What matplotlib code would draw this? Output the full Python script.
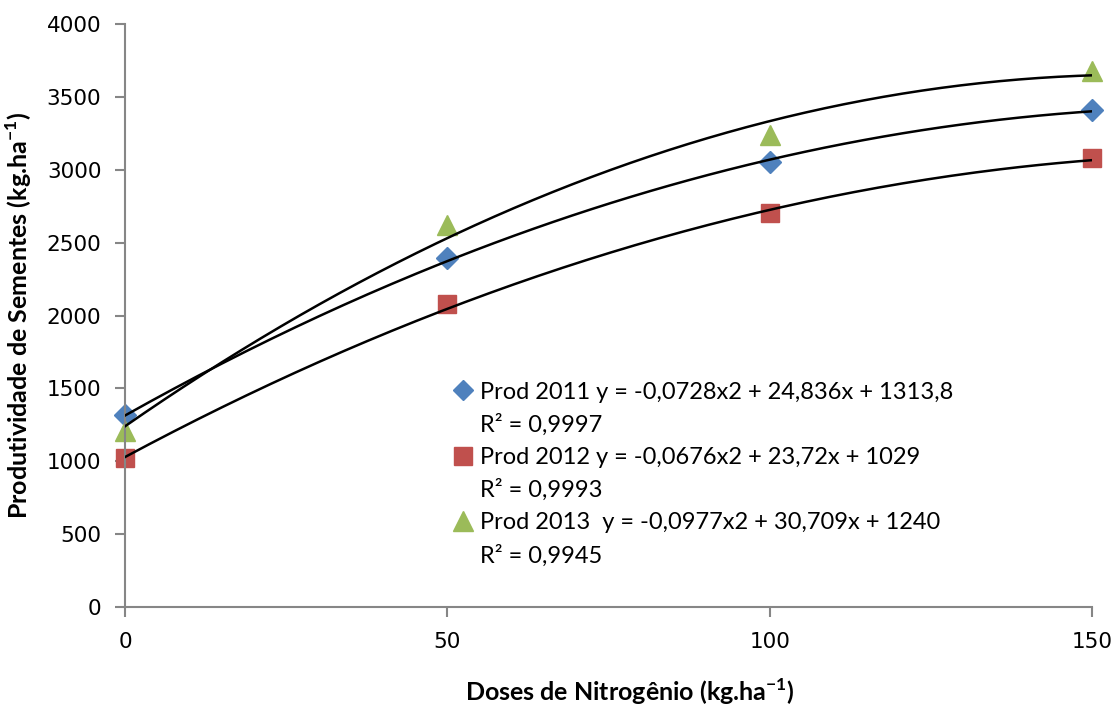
import numpy as np
import matplotlib
matplotlib.use('Agg')
import matplotlib.pyplot as plt
from matplotlib.lines import Line2D

# ── DATA ──────────────────────────────────────────────────────────────────────
doses = [0, 50, 100, 150]
prod_2011 = [1315, 2394, 3053, 3410]
prod_2012 = [1022, 2077, 2703, 3078]
prod_2013 = [1205, 2621, 3238, 3680]

# coeficientes das linhas de tendência (polinômio de 2º grau, do gráfico)
coef_2011 = [-0.0728, 24.836, 1313.8]
coef_2012 = [-0.0676, 23.72, 1029]
coef_2013 = [-0.0977, 30.709, 1240]

labels = ['Prod 2011 y = -0,0728x2 + 24,836x + 1313,8',
          'Prod 2012 y = -0,0676x2 + 23,72x + 1029',
          'Prod 2013  y = -0,0977x2 + 30,709x + 1240']
r2_labels = ['R² = 0,9997', 'R² = 0,9993', 'R² = 0,9945']

x_ticks = [0, 50, 100, 150]
y_ticks = [0, 500, 1000, 1500, 2000, 2500, 3000, 3500, 4000]

# ── ESTILO ────────────────────────────────────────────────────────────────────
plt.rcParams['mathtext.fontset'] = 'custom'
plt.rcParams['mathtext.rm'] = 'Lato'
plt.rcParams['mathtext.bf'] = 'Lato:bold'

cores = ['#4F81BD', '#C0504D', '#9BBB59']
marcadores = ['D', 's', '^']
tamanhos = [11, 13, 15]
eixo_cor = '#868686'

fig, ax = plt.subplots(figsize=(11.2, 7.07), dpi=100)
fig.subplots_adjust(left=0.1116, right=0.975, bottom=0.1414, top=0.966)

series = [prod_2011, prod_2012, prod_2013]
coefs = [coef_2011, coef_2012, coef_2013]

# linhas de tendência
xs = np.linspace(0, 150, 200)
for coef in coefs:
    ax.plot(xs, np.polyval(coef, xs), color='black', lw=1.8, zorder=3)

# pontos
for vals, cor, mk, ms in zip(series, cores, marcadores, tamanhos):
    ax.plot(doses, vals, ls='none', marker=mk, ms=ms, color=cor,
            markeredgecolor=cor, zorder=2, clip_on=False)

ax.set_xlim(0, 150)
ax.set_ylim(0, 4000)
ax.set_xticks(x_ticks)
ax.set_yticks(y_ticks)
ax.tick_params(axis='both', labelsize=15.5, color=eixo_cor, width=1.5, length=7,
               direction='out')
ax.tick_params(axis='x', pad=11)
ax.tick_params(axis='y', pad=10)
for s in ['top', 'right']:
    ax.spines[s].set_visible(False)
for s in ['left', 'bottom']:
    ax.spines[s].set_color(eixo_cor)
    ax.spines[s].set_linewidth(1.5)

ax.set_xlabel(r'Doses de Nitrogênio (kg.ha$^{\mathbf{-1}}$)', fontsize=18,
              fontweight='bold', family='Lato')
ax.xaxis.set_label_coords(0.522, -0.12)
ax.set_ylabel(r'Produtividade de Sementes (kg.ha$^{\mathbf{-1}}$)', fontsize=18,
              fontweight='bold', family='Lato', labelpad=9)

# ── LEGENDA ───────────────────────────────────────────────────────────────────
handles, textos = [], []
for lab, r2, cor, mk, ms in zip(labels, r2_labels, cores, marcadores, tamanhos):
    handles.append(Line2D([], [], ls='none', marker=mk, ms=ms * 0.95, color=cor))
    textos.append(lab)
    handles.append(Line2D([], [], ls='none'))
    textos.append(r2)

ax.legend(handles, textos, loc='upper left', bbox_to_anchor=(0.326, 0.407),
          frameon=False, prop={'family': 'Lato', 'size': 17},
          handlelength=0.9, handletextpad=0.3, labelspacing=0.47, borderpad=0)

fig.savefig('out.png', dpi=100)
